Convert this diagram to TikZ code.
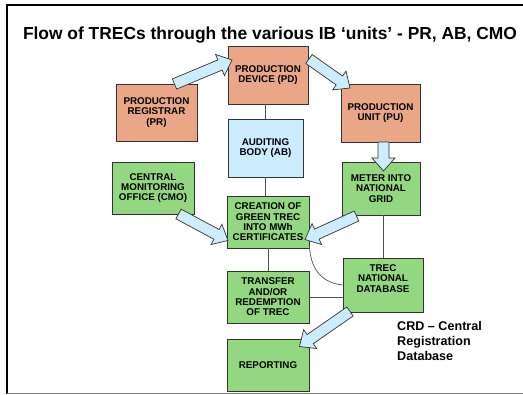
\documentclass[tikz,border=0pt]{standalone}
\usepackage{fontspec}
\setmainfont{Liberation Sans}
\usetikzlibrary{calc}
\definecolor{salmon}{RGB}{233,167,136}
\definecolor{skyb}{RGB}{204,236,255}
\definecolor{leaf}{RGB}{147,216,129}
\definecolor{edge}{RGB}{51,51,51}
\definecolor{lineg}{RGB}{80,80,80}
\tikzset{
  box/.style={draw=edge, line width=0.8pt, inner sep=0pt, align=center,
    font=\bfseries\fontsize{9.8}{10.4}\selectfont},
  orangebox/.style={box, fill=salmon},
  bluebox/.style={box, fill=skyb},
  greenbox/.style={box, fill=leaf},
  conn/.style={draw=lineg, line width=0.7pt},
  fatarr/.style={draw=edge, line width=0.7pt, fill=skyb, line join=miter},
}
\newcommand\mybox[7]{\node[#6, minimum width={(#4-#2)*1pt}, minimum height={(#5-#3)*1pt}] (#1) at ({(#2+#4)/2},{(#3+#5)/2}) {#7};}
\newcommand\fatarrow[2]{%
  \coordinate (neck) at ($(#2)!13pt!(#1)$);
  \draw[fatarr] ($(#1)!5.5pt!90:(#2)$) -- ($(neck)!5.5pt!90:(#2)$) -- ($(neck)!11.5pt!90:(#2)$) -- (#2)
    -- ($(neck)!11.5pt!-90:(#2)$) -- ($(neck)!5.5pt!-90:(#2)$) -- ($(#1)!5.5pt!-90:(#2)$) -- cycle;}
\begin{document}
\begin{tikzpicture}[x=1pt,y=-1pt]
\useasboundingbox (0,0) rectangle (523,395);
% frame
\draw[black, line width=2.6pt] (7,394) -- (7,5) -- (523,5);
\draw[gray, line width=1pt] (7,393.5) -- (523,393.5);
% title
\node[anchor=base, inner sep=0pt, font=\bfseries\fontsize{17.4}{20}\selectfont] (title) at (270,40) {Flow of TRECs through the various IB ‘units’ - PR, AB, CMO};
% boxes
\mybox{pd}{228}{46}{308}{104}{orangebox}{PRODUCTION\\DEVICE (PD)}
\mybox{pr}{116}{84}{197}{141}{orangebox}{PRODUCTION\\REGISTRAR\\(PR)}
\mybox{pu}{341}{84}{420}{142}{orangebox}{PRODUCTION\\UNIT (PU)}
\mybox{ab}{228}{119}{303}{177}{bluebox}{AUDITING\\BODY (AB)}
\mybox{cmo}{112}{162}{194}{214}{greenbox}{CENTRAL\\MONITORING\\OFFICE (CMO)}
\mybox{cr}{227}{196}{309}{248}{greenbox}{CREATION OF\\GREEN TREC\\INTO MWh\\CERTIFICATES}
\mybox{meter}{342}{162}{420}{215}{greenbox}{METER INTO\\NATIONAL\\GRID}
\mybox{tr}{227}{271}{309}{323}{greenbox}{TRANSFER\\AND/OR\\REDEMPTION\\OF TREC}
\mybox{db}{343}{258}{423}{312}{greenbox}{TREC\\NATIONAL\\DATABASE\\[3pt]}
\mybox{rep}{227}{339}{309}{391}{greenbox}{REPORTING}
% CRD label
\node[anchor=north west, inner sep=0pt, align=left, font=\bfseries\fontsize{12.6}{15}\selectfont] (crd) at (397,321.5) {CRD – Central\\Registration\\Database};
% thin connectors
\draw[conn] (ab.north) -- (ab.north |- pd.south);
\draw[conn] (ab.south) -- (ab.south |- cr.north);
\draw[conn] (cr.south) -- (tr.north);
\draw[conn] (db.north) -- (db.north |- meter.south);
\draw[conn] (tr.east) -- (tr.east -| db.west);
\coordinate (cstart) at ($(cr.south east)+(0,-2)$);
\draw[conn] (cstart) .. controls (311,272) and (324,283) .. (db.west);
% fat arrows
\coordinate (a1s) at (174.5,84);   \coordinate (a1e) at (232,60);
\coordinate (a2s) at (309,59);     \coordinate (a2e) at (350,88);
\coordinate (a3s) at (383.5,142);  \coordinate (a3e) at (383.5,171);
\coordinate (a4s) at (178.5,214);  \coordinate (a4e) at (228,240.5);
\coordinate (a5s) at (356.5,216);  \coordinate (a5e) at (305,239.5);
\coordinate (a6s) at (350,311.5);  \coordinate (a6e) at (299.5,346.5);
\fatarrow{a1s}{a1e}
\fatarrow{a2s}{a2e}
\fatarrow{a3s}{a3e}
\fatarrow{a4s}{a4e}
\fatarrow{a5s}{a5e}
\fatarrow{a6s}{a6e}
\end{tikzpicture}
\end{document}
